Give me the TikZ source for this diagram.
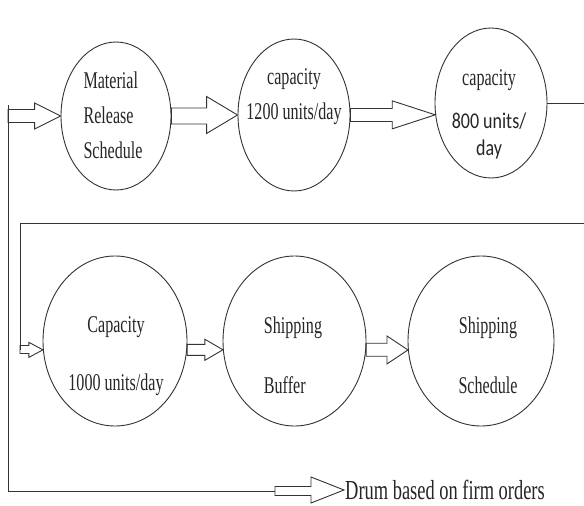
\documentclass[tikz,border=0pt]{standalone}
\usepackage{fontspec}
\usepackage{tikz}
\usetikzlibrary{shapes.geometric,calc}
\newfontfamily\timesnarrow{Liberation Serif}[FakeStretch=0.67]
\newfontfamily\calibnarrow{Carlito}[FakeStretch=0.8]
\tikzset{
 st/.style
  = {ellipse, draw=black!80, line width=0.9pt, inner sep=0pt},
 lbl/.style
  = {inner sep=0pt, text=black!85, font=\timesnarrow\fontsize{24}{35}\selectfont},
 wire/.style
  = {draw=black!80, line width=0.9pt},
 hollow/.style n args = {3}{wire, line join=miter,
   to path={let \p1=(\tikztostart), \p2=(\tikztotarget) in
     (\x1,\y1+#1pt) -- (\x2-#3pt,\y1+#1pt) -- (\x2-#3pt,\y2+#2pt) -- (\x2,\y2)
     -- (\x2-#3pt,\y2-#2pt) -- (\x2-#3pt,\y1-#1pt) -- (\x1,\y1-#1pt) -- cycle}},
}

\begin{document}
\begin{tikzpicture}[x=1pt,y=-1pt]
\useasboundingbox (0,0) rectangle (584,506);
\fill[white] (0,0) rectangle (584,506);
\clip (0,0) rectangle (584,506);

% Top row
\node[st,minimum width=110pt,minimum height=148pt] (E1) at (116,116) {};
\node[st,minimum width=112pt,minimum height=152pt] (E2) at (294,115) {};
\node[st,minimum width=112pt,minimum height=150pt] (E3) at (491,103) {};

\node[lbl,align=left] (E1t) at (113,115) {Material\\Release\\Schedule};
\node[lbl,align=center] (E2t) at (294,97) {capacity\\1200 units/day};
\node[lbl,align=center] (E3t) at (489,114)
  {capacity\\[8pt]{\calibnarrow\fontsize{22.5}{35}\selectfont 800 units/}\\[-8pt]{\calibnarrow\fontsize{22.5}{35}\selectfont day}};

% Bottom row
\node[st,minimum width=144pt,minimum height=170pt] (E4) at (115,341) {};
\node[st,minimum width=143pt,minimum height=170pt] (E5) at (294.5,341) {};
\node[st,minimum width=146pt,minimum height=170pt] (E6) at (481,341) {};

\node[lbl,align=center] (E4t) at (116,356) {Capacity\\[23pt]1000 units/day};
\node[lbl,align=left] (E5t) at (293,355) {Shipping\\[25pt]Buffer};
\node[lbl,align=center] (E6t) at (488,355) {Shipping\\[25pt]Schedule};

% Drum label
\node[lbl,font=\timesnarrow\fontsize{27.5}{30}\selectfont,anchor=west] (drum) at (345,490) {Drum based on firm orders};

% Feed lines
\coordinate (top) at (8,105);
\coordinate (feed) at (8,116);
\coordinate (corner) at (8,491);
\coordinate (drumstart) at (275,491);
\coordinate (loopin) at (20,349.5);

\draw[wire] (top) -- (corner) -- (drumstart);
\draw[wire] (E3.east) -- (600,103) |- (20,223) -- (loopin);

% Arrows
\draw[hollow={6.5}{13}{26}] (feed) to (E1.west);
\draw[hollow={8}{18.5}{31}] (E1.east) to (E2.west);
\draw[hollow={6.5}{14}{43}] (E2.east) to (E3.192);
\draw[hollow={4}{7.5}{14}] (loopin) to (E4.187);
\draw[hollow={5.5}{10.5}{18}] (E4.-7) to (E5.187);
\draw[hollow={6.5}{14}{21}] (E5.-7) to (E6.187);
\draw[hollow={4.5}{13}{33}] (drumstart) to ([xshift=-1pt]drum.west);

\end{tikzpicture}
\end{document}
